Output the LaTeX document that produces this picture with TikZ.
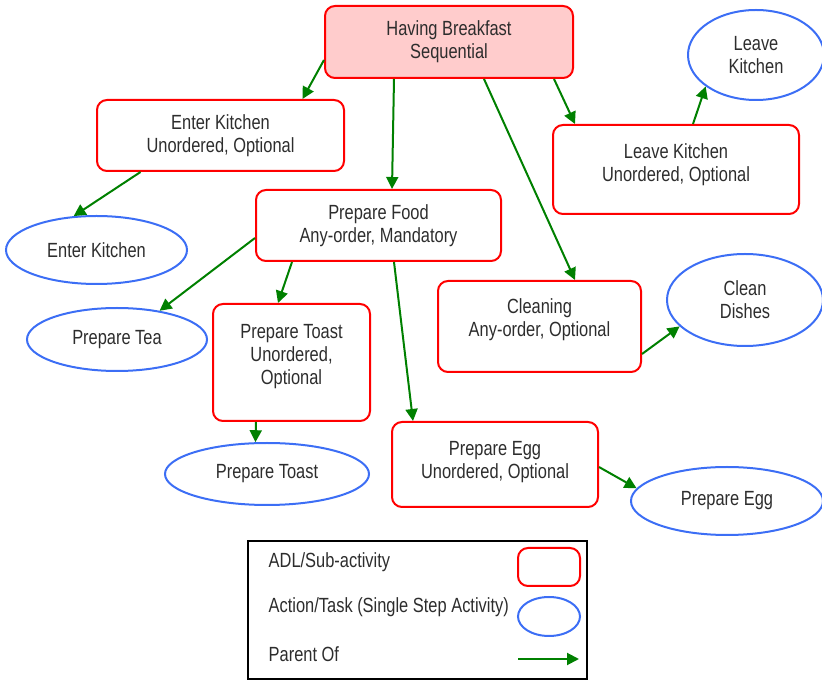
\documentclass[tikz,border=0pt]{standalone}
\usepackage{fontspec}
\setmainfont{Liberation Sans}[FakeStretch=0.8]
\usetikzlibrary{shapes.geometric,arrows.meta,calc}
\definecolor{adlred}{RGB}{255,0,0}
\definecolor{adlpink}{RGB}{255,204,204}
\definecolor{taskblue}{RGB}{60,110,245}
\definecolor{parentgreen}{RGB}{0,128,0}
\definecolor{txtgray}{RGB}{45,45,45}
\tikzset{
	adl/.style={draw=adlred,line width=1.5pt,rounded corners=7.5pt,align=center,inner sep=0pt},
	task/.style={draw=taskblue,line width=1.5pt,ellipse,align=center,inner sep=0pt},
	parent/.style={draw=parentgreen,line width=1.5pt,-{Triangle[length=9pt,width=9pt]}}
}

\begin{document}
\begin{tikzpicture}[x=0.75pt,y=-0.75pt,font=\fontsize{15.4}{17.25}\selectfont,text=txtgray]
\useasboundingbox (0,0) rectangle (822,680);

%activities
\node[adl,fill=adlpink,minimum width=186pt,minimum height=54pt] (hb) at (449,42) {Having Breakfast\\Sequential};
\node[adl,minimum width=185.25pt,minimum height=53.25pt] (ek) at (220.5,135.5) {Enter Kitchen\\Unordered, Optional};
\node[adl,minimum width=184.5pt,minimum height=66.75pt] (lk) at (676,169.5) {Leave Kitchen\\Unordered, Optional\\[-6.75pt]};
\node[adl,minimum width=183.75pt,minimum height=53.25pt] (pf) at (378.5,225.5) {Prepare Food\\Any-order, Mandatory};
\node[adl,minimum width=152.25pt,minimum height=68.25pt] (cl) at (539.5,326.5) {Cleaning\\Any-order, Optional\\[-4.5pt]};
\node[adl,minimum width=117.75pt,minimum height=87.75pt] (ptr) at (291.5,362.5) {Prepare Toast\\Unordered,\\Optional\\[-5.25pt]};
\node[adl,minimum width=154.5pt,minimum height=63.75pt] (per) at (495,464.5) {Prepare Egg\\Unordered, Optional\\[-9.75pt]};

%tasks
\node[task,minimum width=102pt,minimum height=67.5pt] (lke) at (756,55) {Leave\\Kitchen};
\node[task,minimum width=117pt,minimum height=69pt] (cd) at (745,300) {Clean\\Dishes};
\node[task,minimum width=135.75pt,minimum height=51pt] (eke) at (96.5,250) {Enter Kitchen};
\node[task,minimum width=135pt,minimum height=47.25pt] (tea) at (117,339.5) {Prepare Tea};
\node[task,minimum width=153pt,minimum height=46.5pt] (pte) at (267,474) {Prepare Toast};
\node[task,minimum width=144pt,minimum height=51pt] (pee) at (727,501) {Prepare Egg};

%parent of
\draw[parent] ($(hb.west)+(0,18)$) -- ($(ek.north)+(82,0)$);
\draw[parent] ($(hb.south)+(-55,0)$) -- ($(pf.north)+(13.5,0)$);
\draw[parent] ($(hb.south)+(35,0)$) -- ($(cl.north)+(35.5,0)$);
\draw[parent] ($(hb.south)+(105,0)$) -- ($(lk.north)+(-101,0)$);
\draw[parent] ($(lk.north)+(17,0)$) -- (lke.212);
\draw[parent] ($(ek.south)+(-80,0)$) -- (eke.124);
\draw[parent] ($(pf.west)+(0,12.5)$) -- (tea.34);
\draw[parent] ($(pf.south)+(-86.5,0)$) -- ($(ptr.north)+(-13.5,0)$);
\draw[parent] ($(pf.south)+(15.5,0)$) -- ($(per.north)+(-82,0)$);
\draw[parent] ($(cl.east)+(0,27.5)$) -- (cd.202);
\draw[parent] ($(ptr.south)+(-35.5,0)$) -- (pte.110);
\draw[parent] ($(per.east)+(0,2.5)$) -- (pee.172);

%legend
\node[draw=black,line width=1.1pt,minimum width=254.25pt,minimum height=103.5pt,inner sep=0pt] (lgd) at (417.5,610) {};
\node[anchor=west] (lgdadl) at (264,562) {ADL/Sub-activity};
\node[anchor=west] (lgdtask) at (264,607) {Action/Task (Single Step Activity)};
\node[anchor=west] (lgdpar) at (264,654) {Parent Of};
\node[adl,minimum width=46.5pt,minimum height=28.5pt] (keyadl) at (549,567) {};
\node[task,minimum width=46.5pt,minimum height=29.25pt] (keytask) at (549,616.5) {};
\coordinate (keyfrom) at (518,659);
\coordinate (keyto) at (579,659);
\draw[parent] (keyfrom) -- (keyto);

\end{tikzpicture}
\end{document}
